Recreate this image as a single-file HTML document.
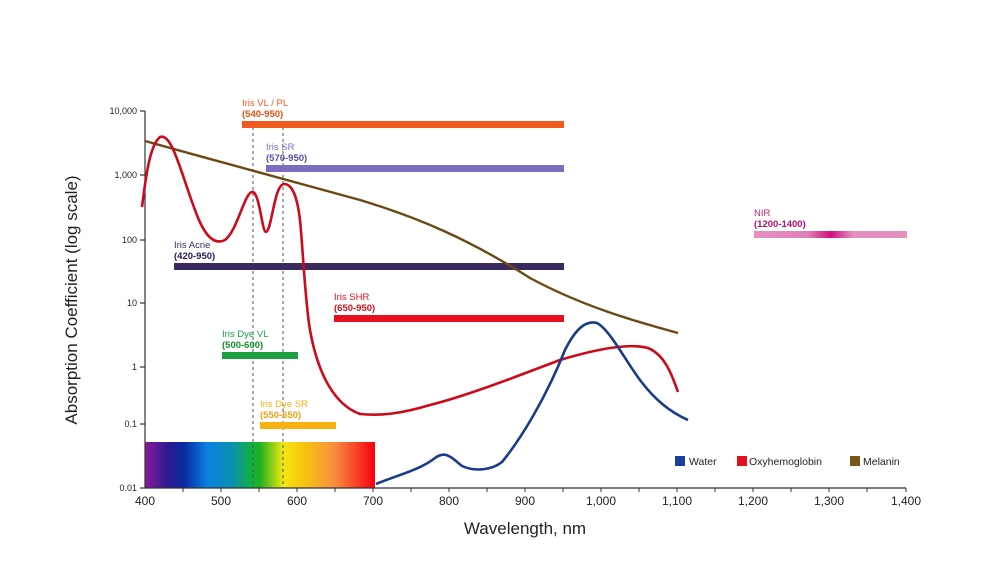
<!DOCTYPE html>
<html><head><style>body{margin:0;background:#fff}svg{display:block}text{font-family:"Liberation Sans",sans-serif}</style></head><body>
<svg width="1000" height="562" viewBox="0 0 1000 562" xmlns="http://www.w3.org/2000/svg">
<defs>
<linearGradient id="sp" x1="0" x2="1">
<stop offset="0" stop-color="#8a1a9a"/><stop offset="0.1" stop-color="#2a1a90"/><stop offset="0.17" stop-color="#0a2aa0"/><stop offset="0.27" stop-color="#0a80e0"/><stop offset="0.38" stop-color="#0a90b0"/><stop offset="0.46" stop-color="#10b040"/><stop offset="0.5" stop-color="#20b020"/><stop offset="0.6" stop-color="#f0e810"/><stop offset="0.7" stop-color="#f8c010"/><stop offset="0.82" stop-color="#f89040"/><stop offset="1" stop-color="#f80010"/>
</linearGradient>
<linearGradient id="nir" x1="0" x2="1">
<stop offset="0" stop-color="#e590c0"/><stop offset="0.35" stop-color="#e080b8"/><stop offset="0.5" stop-color="#d0107f"/><stop offset="0.65" stop-color="#e590c0"/><stop offset="1" stop-color="#e590c0"/>
</linearGradient>
</defs>
<rect x="145" y="442" width="230" height="46" fill="url(#sp)"/>
<line x1="253" y1="127" x2="253" y2="488" stroke="#555" stroke-dasharray="3,3" stroke-width="1"/>
<line x1="283" y1="127" x2="283" y2="488" stroke="#555" stroke-dasharray="3,3" stroke-width="1"/>
<g stroke="#333" stroke-width="1.2" fill="none">
<line x1="145" y1="111" x2="145" y2="488"/>
<line x1="145" y1="488" x2="906" y2="488"/>
<line x1="140" y1="111" x2="145" y2="111"/><line x1="140" y1="175" x2="145" y2="175"/><line x1="140" y1="240" x2="145" y2="240"/><line x1="140" y1="303" x2="145" y2="303"/><line x1="140" y1="367" x2="145" y2="367"/><line x1="140" y1="424" x2="145" y2="424"/><line x1="140" y1="488" x2="145" y2="488"/>
</g>
<g stroke="#333" stroke-width="1">
<line x1="183" y1="488" x2="183" y2="492"/><line x1="221" y1="488" x2="221" y2="492"/><line x1="259" y1="488" x2="259" y2="492"/><line x1="297" y1="488" x2="297" y2="492"/><line x1="335" y1="488" x2="335" y2="492"/><line x1="373" y1="488" x2="373" y2="492"/><line x1="411" y1="488" x2="411" y2="492"/><line x1="449" y1="488" x2="449" y2="492"/><line x1="487" y1="488" x2="487" y2="492"/><line x1="525" y1="488" x2="525" y2="492"/><line x1="563" y1="488" x2="563" y2="492"/><line x1="601" y1="488" x2="601" y2="492"/><line x1="639" y1="488" x2="639" y2="492"/><line x1="677" y1="488" x2="677" y2="492"/><line x1="715" y1="488" x2="715" y2="492"/><line x1="753" y1="488" x2="753" y2="492"/><line x1="791" y1="488" x2="791" y2="492"/><line x1="829" y1="488" x2="829" y2="492"/><line x1="867" y1="488" x2="867" y2="492"/><line x1="906" y1="488" x2="906" y2="492"/>
</g>
<g font-size="9" fill="#222" text-anchor="end">
<text x="137" y="114">10,000</text><text x="137" y="178">1,000</text><text x="137" y="243">100</text><text x="137" y="306">10</text><text x="137" y="370">1</text><text x="137" y="427">0.1</text><text x="137" y="491">0.01</text>
</g>
<g font-size="12" fill="#222" text-anchor="middle">
<text x="145" y="505">400</text><text x="221" y="505">500</text><text x="297" y="505">600</text><text x="373" y="505">700</text><text x="449" y="505">800</text><text x="525" y="505">900</text><text x="601" y="505">1,000</text><text x="677" y="505">1,100</text><text x="753" y="505">1,200</text><text x="829" y="505">1,300</text><text x="906" y="505">1,400</text>
</g>
<text x="525" y="534" font-size="17" fill="#222" text-anchor="middle">Wavelength, nm</text>
<text transform="translate(77,300) rotate(-90)" font-size="17" fill="#222" text-anchor="middle">Absorption Coefficient (log scale)</text>
<rect x="242" y="121" width="322" height="7" fill="#f05a1e"/>
<rect x="266" y="165" width="298" height="7" fill="#7d6dbf"/>
<rect x="174" y="263" width="390" height="7" fill="#3a2a60"/>
<rect x="334" y="315" width="230" height="7" fill="#e8101e"/>
<rect x="222" y="352" width="76" height="7" fill="#1aa040"/>
<rect x="260" y="422" width="76" height="7" fill="#f8b010"/>
<rect x="754" y="231" width="153" height="7" fill="url(#nir)"/>
<g font-size="9.5">
<text x="242" y="106" fill="#f05a1e">Iris VL / PL</text><text x="242" y="117" fill="#e05010" font-weight="bold">(540-950)</text>
<text x="266" y="150" fill="#7d6dbf">Iris SR</text><text x="266" y="161" fill="#5a4a9a" font-weight="bold">(570-950)</text>
<text x="174" y="248" fill="#3a2a60">Iris Acne</text><text x="174" y="259" fill="#2a1a50" font-weight="bold">(420-950)</text>
<text x="334" y="300" fill="#e8101e">Iris SHR</text><text x="334" y="311" fill="#d0101a" font-weight="bold">(650-950)</text>
<text x="222" y="337" fill="#1aa040">Iris Dye VL</text><text x="222" y="348" fill="#10902a" font-weight="bold">(500-600)</text>
<text x="260" y="407" fill="#f8b010">Iris Dye SR</text><text x="260" y="418" fill="#f0a010" font-weight="bold">(550-650)</text>
<text x="754" y="216" fill="#c0207a">NIR</text><text x="754" y="227" fill="#b0106a" font-weight="bold">(1200-1400)</text>
</g>
<path fill="none" stroke="#6b4a12" stroke-width="2.4" d="M145,141 C220,162 300,183 360,200 C420,218 470,240 530,278 C580,305 630,320 678,333"/>
<path fill="none" stroke="#cc0a1a" stroke-width="2.6" stroke-linejoin="round" d="M142,207 C146,175 150,145 160,137 C172,133 180,170 195,210 C205,238 215,245 225,240 C238,230 245,190 253,192 C260,195 262,232 266,232 C272,230 274,185 284,184 C292,184 297,195 300,220 C303,250 305,300 310,330 C318,375 335,405 360,414 C380,416 400,414 430,405 C470,395 520,375 560,360 C600,348 630,343 648,348 C665,355 672,375 678,392"/>
<path fill="none" stroke="#1a3a8a" stroke-width="2.6" d="M376,484 C395,476 420,470 435,458 C446,450 452,458 462,466 C475,472 492,470 502,462 C520,440 545,400 565,350 C575,330 585,320 597,323 C610,330 625,360 640,380 C655,400 670,412 688,420"/>
<rect x="675" y="456" width="10" height="10" fill="#1a3f9a"/><text x="689" y="465" font-size="10.5" fill="#222">Water</text>
<rect x="737" y="456" width="10" height="10" fill="#e0101e"/><text x="749" y="465" font-size="10.5" fill="#222">Oxyhemoglobin</text>
<rect x="850" y="456" width="10" height="10" fill="#7a5518"/><text x="863" y="465" font-size="10.5" fill="#222">Melanin</text>
</svg>
</body></html>
